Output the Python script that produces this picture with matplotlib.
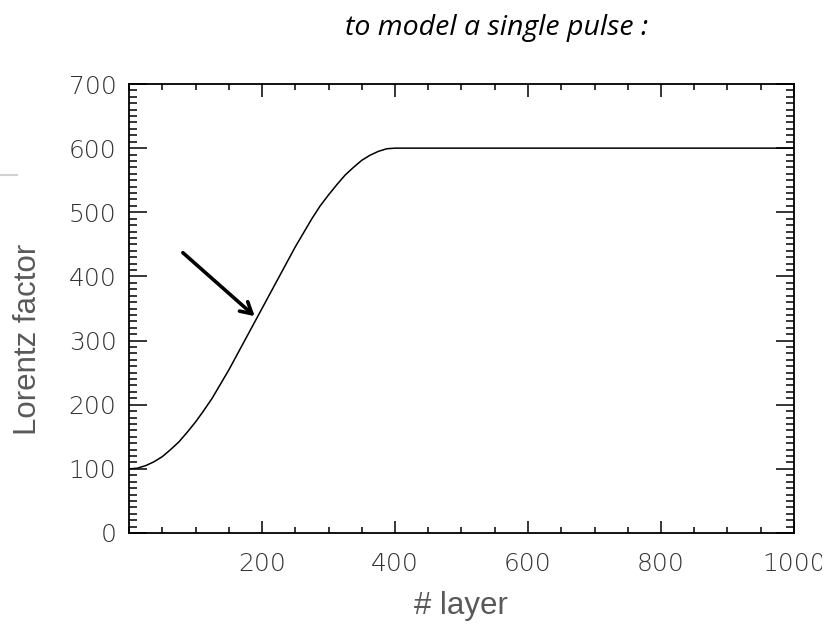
import matplotlib
matplotlib.use("Agg")
import matplotlib.pyplot as plt
from matplotlib.ticker import MultipleLocator, FixedLocator
from matplotlib.patches import Rectangle
from matplotlib.lines import Line2D

# data
layer = [0, 12.5, 25, 37.5, 50, 62.5, 75, 87.5, 100, 112.5, 125, 137.5, 150,
         162.5, 175, 187.5, 200, 212.5, 225, 237.5, 250, 262.5, 275, 287.5,
         300, 312.5, 325, 337.5, 350, 362.5, 375, 387.5, 400, 500, 600, 700,
         800, 900, 1000]
lorentz = [100, 101, 105, 111, 119, 130, 142, 157, 173, 191, 210, 232, 254,
           278, 302, 326, 350, 374, 398, 422, 446, 468, 490, 510, 527, 543,
           558, 570, 581, 589, 595, 599, 600, 600, 600, 600, 600, 600, 600]
xticks = [200, 400, 600, 800, 1000]
yticks = [0, 100, 200, 300, 400, 500, 600, 700]
arrow_start = (81, 437)
arrow_end = (189, 338)

W, H = 836, 625
fig = plt.figure(figsize=(W / 100, H / 100), dpi=100)
ax = fig.add_axes([129 / W, 1 - 533 / H, (794 - 129) / W, (533 - 84) / H])

ax.plot(layer, lorentz, color='black', lw=1.1)
ax.set_xlim(0, 1000)
ax.set_ylim(0, 700)

tickfont = dict(family='DejaVu Sans', weight='light', size=18, color='#333333')
ax.xaxis.set_major_locator(FixedLocator(xticks))
ax.xaxis.set_minor_locator(MultipleLocator(50))
ax.yaxis.set_major_locator(FixedLocator(yticks))
ax.yaxis.set_minor_locator(MultipleLocator(10))
ax.set_xticklabels([str(v) for v in xticks], fontdict=tickfont)
ax.set_yticklabels([str(v) for v in yticks], fontdict=tickfont)

ax.tick_params(axis='x', which='major', direction='in', length=9, width=1.1,
               top=True, pad=14)
ax.tick_params(axis='x', which='minor', direction='in', length=4.5, width=1.1,
               top=True)
ax.tick_params(axis='y', which='major', direction='in', length=13, width=1.1,
               right=True, pad=9)
ax.tick_params(axis='y', which='minor', direction='in', length=6, width=1.1,
               right=True)
for s in ax.spines.values():
    s.set_linewidth(1.3)

ax.annotate('', xy=arrow_end, xytext=arrow_start,
            arrowprops=dict(arrowstyle='->,head_length=0.8,head_width=0.45',
                            lw=2.6, color='black', shrinkA=0, shrinkB=0))

fig.text(461 / W, 1 - 606 / H, '# layer', ha='center', va='center',
         fontsize=22.5, color='#595959', family='Liberation Sans')
fig.text(28 / W, 1 - 339 / H, 'Lorentz factor', ha='center', va='center',
         rotation=90, fontsize=22.5, color='#595959', family='Liberation Sans')
fig.text(345 / W, 1 - 35 / H, 'to model a single pulse :', ha='left',
         va='baseline', fontsize=20.5, style='italic', family='Open Sans',
         color='black')

fig.add_artist(Line2D([0, 17 / W], [1 - 175 / H, 1 - 175 / H],
                      color='#d0d0d0', lw=1.5))
fig.add_artist(Rectangle((822 / W, 0), 14 / W, 1, transform=fig.transFigure,
                         facecolor='white', edgecolor='none', zorder=10))

fig.savefig('out.png', dpi=100)
